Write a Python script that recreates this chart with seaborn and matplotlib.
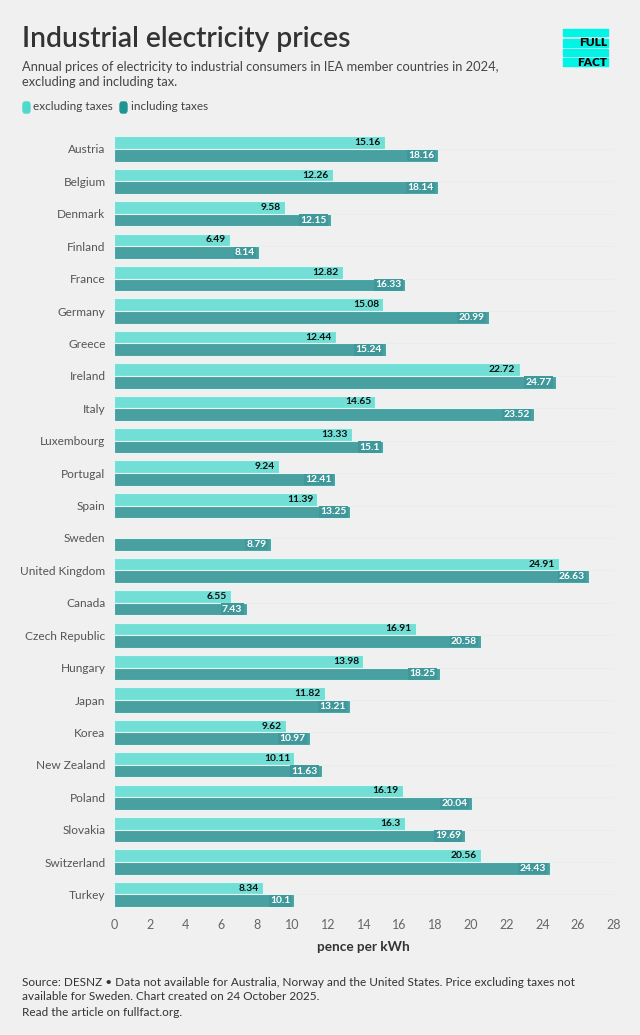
import numpy as np
import pandas as pd
import matplotlib.pyplot as plt
import seaborn as sns
from matplotlib.patches import Rectangle, FancyBboxPatch

# === ДАННЫЕ ===
countries = ["Austria", "Belgium", "Denmark", "Finland", "France", "Germany", "Greece",
             "Ireland", "Italy", "Luxembourg", "Portugal", "Spain", "Sweden",
             "United Kingdom", "Canada", "Czech Republic", "Hungary", "Japan", "Korea",
             "New Zealand", "Poland", "Slovakia", "Switzerland", "Turkey"]
excl_tax = [15.16, 12.26, 9.58, 6.49, 12.82, 15.08, 12.44, 22.72, 14.65, 13.33, 9.24,
            11.39, np.nan, 24.91, 6.55, 16.91, 13.98, 11.82, 9.62, 10.11, 16.19, 16.3,
            20.56, 8.34]
incl_tax = [18.16, 18.14, 12.15, 8.14, 16.33, 20.99, 15.24, 24.77, 23.52, 15.1, 12.41,
            13.25, 8.79, 26.63, 7.43, 20.58, 18.25, 13.21, 10.97, 11.63, 20.04, 19.69,
            24.43, 10.1]
series = ["excluding taxes", "including taxes"]
x_ticks = list(range(0, 30, 2))

BG = "#f0f0f0"
LIGHT = "#72dfd6"
DARK = "#48a0a0"

df = pd.DataFrame({"country": countries, series[0]: excl_tax, series[1]: incl_tax})
long = df.melt(id_vars="country", var_name="type", value_name="price")

sns.set_theme(style="white")
plt.rcParams["font.family"] = ["Lato", "DejaVu Sans"]

fig = plt.figure(figsize=(6.4, 10.35), dpi=100, facecolor=BG)
ax = fig.add_axes([0.178, 0.1201, 0.781, 0.7516])
ax.set_facecolor(BG)

sns.barplot(data=long, y="country", x="price", hue="type", order=countries,
            hue_order=series, palette=[LIGHT, DARK], saturation=1, orient="h",
            width=0.78, edgecolor="#e4f6f4", linewidth=0.8, legend=False, ax=ax)

# подписи внутри столбиков, у правого края
for cont, col in zip(ax.containers, ["#111111", "white"]):
    for bar, v in zip(cont.patches, cont.datavalues):
        if np.isnan(v):
            continue
        box = None if col != "white" else dict(boxstyle="square,pad=0.12", fc="#40989a", ec="none")
        ax.annotate(f"{v:g}", (bar.get_x() + bar.get_width(), bar.get_y() + bar.get_height() / 2),
                    xytext=(-3, 0), textcoords="offset points", ha="right", va="center",
                    fontsize=7.4, fontweight="bold", color=col, bbox=box)

# тонкие линии по строкам
for i in range(len(countries)):
    ax.axhline(i, color="#e9e9e9", lw=0.5, zorder=0)

ax.set_xlim(0, 28)
ax.set_xticks(x_ticks)
ax.set_xticklabels([str(t) for t in x_ticks], fontsize=9, color="#666666")
ax.tick_params(axis="y", labelsize=8.6, colors="#555555", length=0, pad=6)
ax.tick_params(axis="x", length=0, pad=6)
ax.set_ylabel("")
ax.set_xlabel("pence per kWh", fontsize=9.8, fontweight="bold", color="#333333", labelpad=7)
sns.despine(ax=ax, left=True, bottom=True)
ax.set_ylim(len(countries) - 0.5, -0.5)

# заголовок
fig.text(22 / 640, 1 - 39.5 / 1035, "Industrial electricity prices", fontsize=20.3,
         fontweight="semibold", color="#333333", va="center")
fig.text(22 / 640, 1 - 67 / 1035, "Annual prices of electricity to industrial consumers in IEA member countries in 2024,",
         fontsize=9.25, color="#444444", va="center")
fig.text(22 / 640, 1 - 82 / 1035, "excluding and including tax.",
         fontsize=9.25, color="#444444", va="center")

# легенда
fig.patches.append(FancyBboxPatch((23 / 640, 1 - 113 / 1035), 7 / 640, 11 / 1035,
                                  boxstyle="round,pad=0,rounding_size=0.003",
                                  transform=fig.transFigure, color="#4fd8cc"))
fig.text(33 / 640, 1 - 107 / 1035, "excluding taxes", fontsize=8.5, color="#444444", va="center")
fig.patches.append(FancyBboxPatch((120 / 640, 1 - 113 / 1035), 7 / 640, 11 / 1035,
                                  boxstyle="round,pad=0,rounding_size=0.003",
                                  transform=fig.transFigure, color="#1f9590"))
fig.text(131 / 640, 1 - 107 / 1035, "including taxes", fontsize=8.5, color="#444444", va="center")

# логотип
for y0, y1 in [(29, 36), (39, 47), (49, 56), (58, 66)]:
    fig.patches.append(Rectangle((563 / 640, 1 - y1 / 1035), 45 / 640, (y1 - y0) / 1035,
                                 transform=fig.transFigure, color="#00f5e6"))
fig.text(607 / 640, 1 - 43 / 1035, "FULL", fontsize=8.5, fontweight="heavy",
         color="black", ha="right", va="center")
fig.text(607 / 640, 1 - 62 / 1035, "FACT", fontsize=8.5, fontweight="heavy",
         color="black", ha="right", va="center")

# подвал
fig.text(22 / 640, 1 - 982 / 1035,
         "Source: DESNZ \u2022 Data not available for Australia, Norway and the United States. Price excluding taxes not",
         fontsize=8.5, color="#333333", va="center")
fig.text(22 / 640, 1 - 997 / 1035, "available for Sweden. Chart created on 24 October 2025.",
         fontsize=8.5, color="#333333", va="center")
fig.text(22 / 640, 1 - 1012 / 1035, "Read the article on fullfact.org.",
         fontsize=8.5, color="#333333", va="center")

fig.savefig("out.png", dpi=100, facecolor=BG)
